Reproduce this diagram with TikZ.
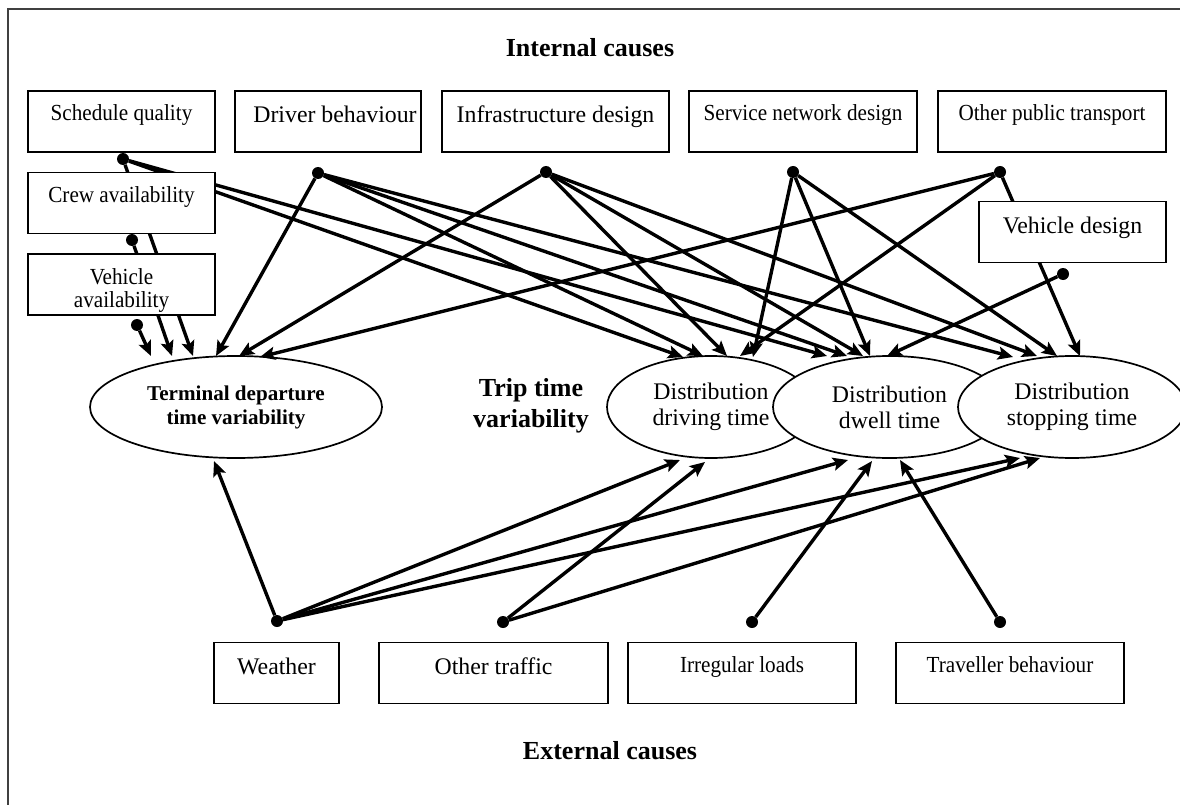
\documentclass[tikz,border=0pt]{standalone}
\usepackage{fontspec}
\setmainfont{Liberation Serif}
\newfontfamily\narrowserif{Liberation Serif}[FakeStretch=0.92]
\usetikzlibrary{arrows.meta,shapes.geometric}
\pgfdeclarelayer{ellayer}
\pgfdeclarelayer{linelayer}
\pgfsetlayers{ellayer,linelayer,main}
\begin{document}
\begin{tikzpicture}[x=1pt,y=-1pt,
  smallf/.style={font=\narrowserif\fontsize{23}{23}\selectfont},
  bigf/.style={font=\fontsize{23.8}{26}\selectfont},
  box/.style={draw, line width=1.7pt, fill=white, minimum height=61pt, inner xsep=0pt, inner ysep=0pt},
  boxS/.style={box, smallf, text height=30pt, text depth=31pt},
  boxB/.style={box, bigf, text height=32pt, text depth=29pt},
  ell/.style={ellipse, draw, line width=1.7pt, fill=white, minimum height=102pt, inner sep=0pt, outer sep=0pt, align=center},
  dot/.style={circle, fill=black, inner sep=0pt, minimum size=12pt},
  conn/.style={line width=3.4pt, -{Stealth[length=15pt,width=13pt,inset=3pt]}},
  titletext/.style={font=\bfseries\fontsize{26}{30}\selectfont}
]
\useasboundingbox (0,0) rectangle (1180,805);
\draw[line width=1.5pt, black!75] (8,805) -- (8,9) -- (1180,9);

% titles
\node[titletext] (internal) at (590,48) {Internal causes};
\node[titletext] (external) at (610,751) {External causes};
\node[titletext, align=center, font=\bfseries\fontsize{26}{31}\selectfont] (trip) at (531,406) {Trip time\\variability};

% top boxes
\node[boxS, minimum width=187pt] (sq) at (121.5,121.5) {Schedule quality};
\node[boxB, minimum width=186pt] (db) at (328,121.5) {\hspace*{14pt}Driver behaviour};
\node[boxB, minimum width=227pt] (id) at (555.5,121.5) {Infrastructure design};
\node[boxS, minimum width=228pt] (sn) at (803,121.5) {Service network design};
\node[boxS, minimum width=228pt] (opt) at (1052,121.5) {Other public transport};
\node[boxB, minimum width=187pt] (vd) at (1072.5,232) {Vehicle design};
\node[boxS, minimum width=187pt] (ca) at (121.5,203) {Crew availability};
\node[boxS, minimum width=187pt] (va) at (121.5,284.5) {\begin{tabular}[t]{@{}c@{}}Vehicle\\availability\end{tabular}};

% bottom boxes
\node[boxB, minimum width=125pt] (we) at (276.5,673) {Weather};
\node[boxB, minimum width=229pt] (ot) at (493.5,673) {Other traffic};
\node[boxS, minimum width=228pt] (il) at (742,673) {Irregular loads};
\node[boxS, minimum width=228pt] (tb) at (1010,673) {Traveller behaviour};

% ellipses
\begin{pgfonlayer}{ellayer}
\node[ell, minimum width=292pt, font=\bfseries\fontsize{21.1}{24}\selectfont] (term) at (236,407) {Terminal departure\\time variability};
\node[ell, minimum width=208pt, bigf] (drv) at (711,407) {Distribution\\driving time};
\node[ell, minimum width=233pt, bigf] (dwl) at (889.5,407) {Distribution\\dwell time};
\node[ell, minimum width=228pt, bigf] (stp) at (1072,407) {Distribution\\stopping time};
\end{pgfonlayer}

% dots
\node[dot] (sqd) at (123,159) {};
\node[dot] (cad) at (132,240) {};
\node[dot] (vad) at (137,325) {};
\node[dot] (dbd) at (318,173) {};
\node[dot] (idd) at (546,172) {};
\node[dot] (snd) at (793,172) {};
\node[dot] (optd) at (1000,172) {};
\node[dot] (vdd) at (1063,274) {};
\node[dot] (wed) at (277,621) {};
\node[dot] (otd) at (503,622) {};
\node[dot] (ild) at (752,622) {};
\node[dot] (tbd) at (1000,622) {};

% arrow end points
\coordinate (tT1) at (151,356);
\coordinate (tT2) at (172,356);
\coordinate (tT3) at (193,356);
\coordinate (tT4) at (216,356);
\coordinate (tT5) at (239,356);
\coordinate (tT6) at (260,357);
\coordinate (tB1) at (214,461);
\coordinate (rT1) at (683,357);
\coordinate (rT2) at (703,356);
\coordinate (rT3) at (727,356);
\coordinate (rT4) at (740,356);
\coordinate (rT5) at (753,357);
\coordinate (rB1) at (680,460);
\coordinate (rB2) at (705,462);
\coordinate (wT1) at (827,356);
\coordinate (wT2) at (847,356);
\coordinate (wT3) at (863,356);
\coordinate (wT4) at (870,356);
\coordinate (wT5) at (887,356);
\coordinate (wB1) at (848,460);
\coordinate (wB2) at (872,461);
\coordinate (wB3) at (900,460);
\coordinate (sT1) at (1013,357);
\coordinate (sT2) at (1037,356);
\coordinate (sT3) at (1057,356);
\coordinate (sT4) at (1080,356);
\coordinate (sB1) at (1020,458);
\coordinate (sB2) at (1040,458);

\begin{pgfonlayer}{linelayer}
% to terminal departure
\draw[conn] (vad) -- (tT1);
\draw[conn] (cad) -- (tT2);
\draw[conn] (sqd) -- (tT3);
\draw[conn] (dbd) -- (tT4);
\draw[conn] (idd) -- (tT5);
\draw[conn] (optd) -- (tT6);
\draw[conn] (wed) -- (tB1);
% to driving time
\draw[conn] (sqd) -- (rT1);
\draw[conn] (dbd) -- (rT2);
\draw[conn] (idd) -- (rT3);
\draw[conn] (optd) -- (rT4);
\draw[conn] (snd) -- (rT5);
\draw[conn] (wed) -- (rB1);
\draw[conn] (otd) -- (rB2);
% to dwell time
\draw[conn] (sqd) -- (wT1);
\draw[conn] (dbd) -- (wT2);
\draw[conn] (idd) -- (wT3);
\draw[conn] (snd) -- (wT4);
\draw[conn] (vdd) -- (wT5);
\draw[conn] (wed) -- (wB1);
\draw[conn] (ild) -- (wB2);
\draw[conn] (tbd) -- (wB3);
% to stopping time
\draw[conn] (dbd) -- (sT1);
\draw[conn] (idd) -- (sT2);
\draw[conn] (snd) -- (sT3);
\draw[conn] (optd) -- (sT4);
\draw[conn] (wed) -- (sB1);
\draw[conn] (otd) -- (sB2);
\end{pgfonlayer}
\end{tikzpicture}
\end{document}
